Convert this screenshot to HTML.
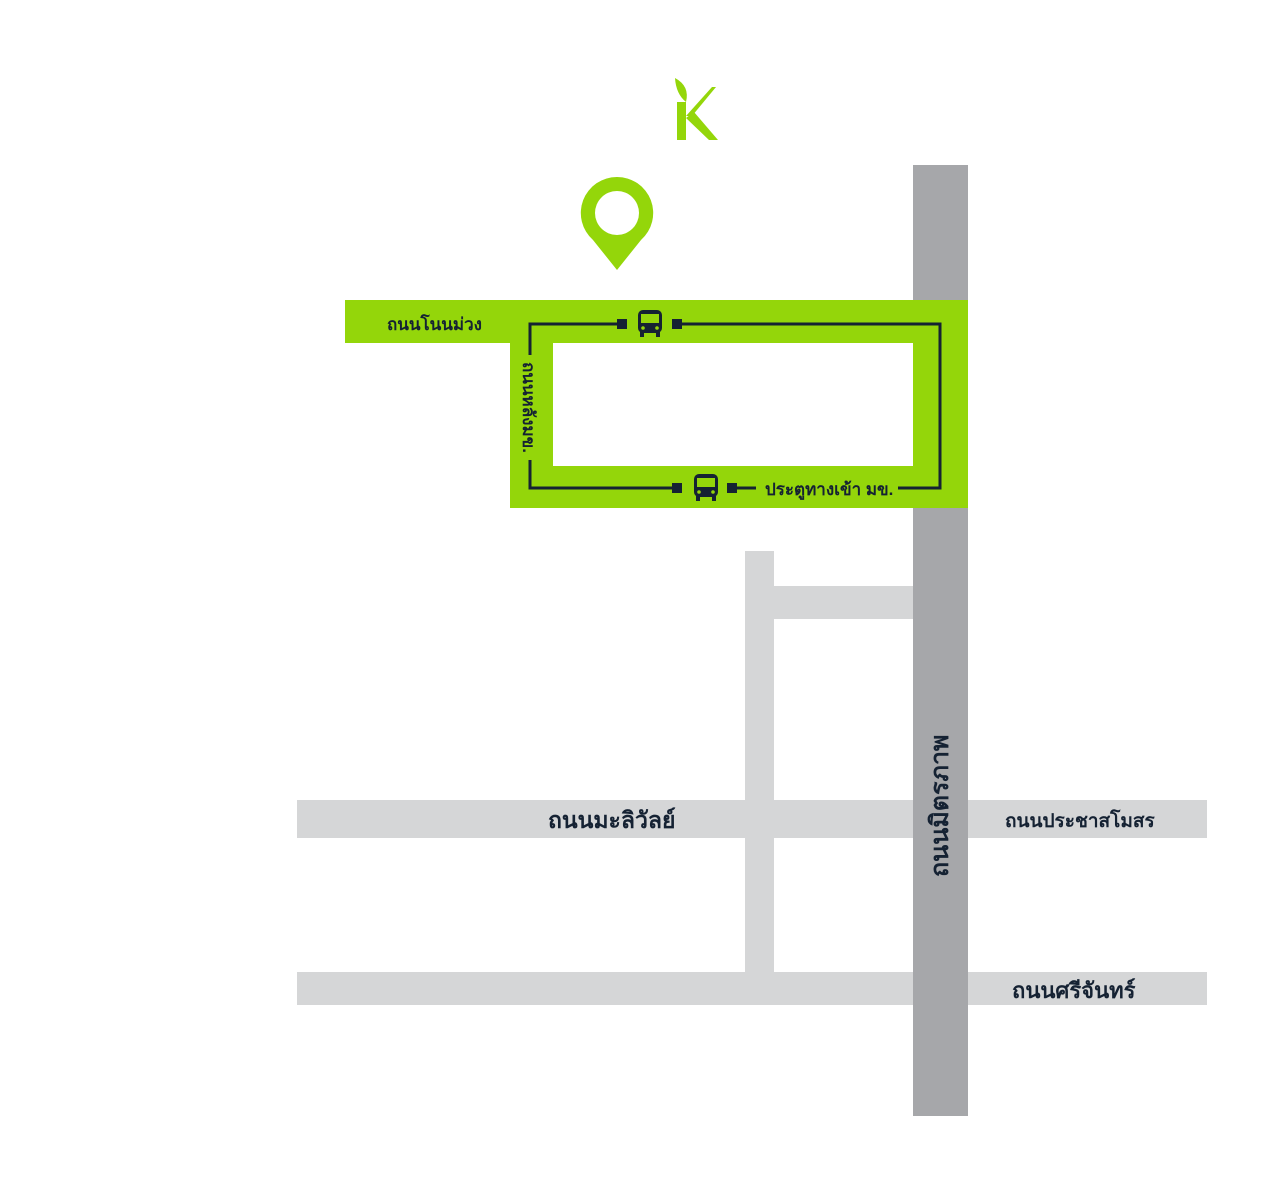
<!DOCTYPE html>
<html><head><meta charset="utf-8"><style>
html,body{margin:0;padding:0;background:#fff;}
svg{display:block}
text{font-family:"Liberation Sans","Noto Sans CJK SC",sans-serif;font-weight:bold;fill:#152233}
</style></head><body>
<svg width="1280" height="1182" viewBox="0 0 1280 1182" xmlns="http://www.w3.org/2000/svg">
<rect width="1280" height="1182" fill="#fff"/>
<g fill="#d5d6d7">
<rect x="745" y="551" width="29" height="421"/>
<rect x="774" y="586" width="139" height="33"/>
<rect x="297" y="800" width="910" height="38"/>
<rect x="297" y="972" width="910" height="33"/>
</g>
<rect x="913" y="165" width="55" height="951" fill="#a6a7aa"/>
<g fill="#94d60a">
<rect x="345" y="300" width="623" height="43"/>
<rect x="510" y="300" width="43" height="208"/>
<rect x="510" y="466" width="458" height="42"/>
<rect x="913" y="300" width="55" height="208"/>
</g>
<g stroke="#152233" stroke-width="3" fill="none">
<polyline points="530,355 530,324 620,324"/>
<polyline points="680,324 940,324 940,488 898,488"/>
<polyline points="530,460 530,488 675,488"/>
<line x1="735" y1="488" x2="756" y2="488"/>
</g>
<g fill="#152233">
<rect x="617" y="319" width="10" height="10"/>
<rect x="672" y="319" width="10" height="10"/>
<rect x="672" y="483" width="10" height="10"/>
<rect x="727" y="483" width="10" height="10"/>
</g>
<g id="bus">
<rect x="638" y="310" width="24" height="23" rx="5" fill="#152233"/>
<rect x="641" y="314" width="18" height="9" fill="#94d60a"/>
<circle cx="643" cy="328" r="1.8" fill="#94d60a"/>
<circle cx="657" cy="328" r="1.8" fill="#94d60a"/>
<rect x="640" y="332" width="4" height="5" fill="#152233"/>
<rect x="656" y="332" width="4" height="5" fill="#152233"/>
</g>
<use href="#bus" x="56" y="164"/>
<text x="387" y="330" font-size="17">ถนนโนนม่วง</text>
<text x="765" y="495" font-size="17">ประตูทางเข้า มข.</text>
<text transform="translate(523,362) rotate(90)" font-size="17">ถนนหลังมข.</text>
<text x="548" y="828" font-size="23">ถนนมะลิวัลย์</text>
<text x="1005" y="827" font-size="19">ถนนประชาสโมสร</text>
<text x="1012" y="998" font-size="22">ถนนศรีจันทร์</text>
<text transform="translate(948,877) rotate(-90)" font-size="25">ถนนมิตรภาพ</text>
<path d="M617,177 a36,36 0 0 1 24,63 L617,270 L593,240 a36,36 0 0 1 24,-63 z" fill="#94d60a"/>
<circle cx="617" cy="213" r="22" fill="#fff"/>
<g fill="#94d60a">
<rect x="677" y="102" width="9" height="38"/>
<polygon points="686,116 712,87 716,87 692,116"/>
<polygon points="686,118 694,112 718,140 709,140"/>
<path d="M675,78 Q690,86 686,102 Q676,94 675,78 z"/>
</g>
</svg>
</body></html>
